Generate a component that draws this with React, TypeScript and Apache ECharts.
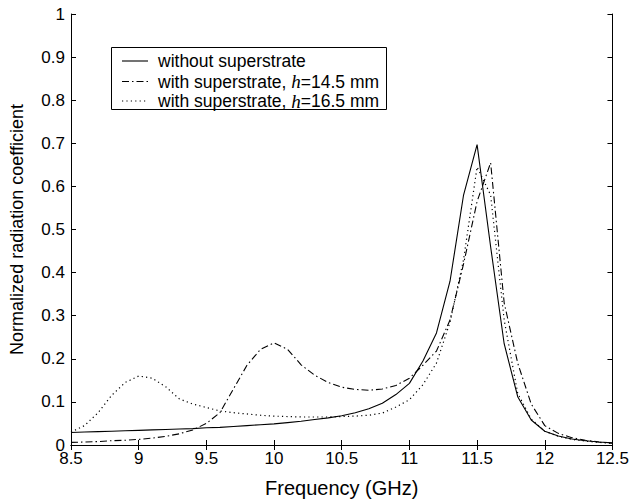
import React, { useEffect, useRef } from "react";
import * as echarts from "echarts";

const freqs = [
  8.5, 8.6, 8.7, 8.8, 8.9, 9.0, 9.1, 9.2, 9.3, 9.4, 9.5, 9.6, 9.7, 9.8, 9.9,
  10.0, 10.1, 10.2, 10.3, 10.4, 10.5, 10.6, 10.7, 10.8, 10.9, 11.0, 11.1, 11.2,
  11.3, 11.4, 11.5, 11.6, 11.7, 11.8, 11.9, 12.0, 12.1, 12.2, 12.3, 12.4, 12.5,
];

const withoutSuperstrate = [
  0.029, 0.03, 0.031, 0.032, 0.033, 0.034, 0.035, 0.036, 0.037, 0.038, 0.04,
  0.041, 0.043, 0.045, 0.047, 0.049, 0.052, 0.055, 0.059, 0.063, 0.068, 0.075,
  0.084, 0.097, 0.117, 0.143, 0.195, 0.26, 0.38, 0.58, 0.697, 0.46, 0.235,
  0.112, 0.058, 0.032, 0.021, 0.014, 0.01, 0.007, 0.005,
];

const superstrate145 = [
  0.006, 0.007, 0.008, 0.01, 0.011, 0.013, 0.016, 0.02, 0.026, 0.035, 0.05,
  0.075, 0.13, 0.185, 0.222, 0.237, 0.222, 0.186, 0.162, 0.145, 0.134, 0.129,
  0.127, 0.13, 0.138, 0.155, 0.185, 0.218, 0.29, 0.42, 0.565, 0.655, 0.33,
  0.19, 0.095, 0.045, 0.027, 0.017, 0.011, 0.007, 0.004,
];

const superstrate165 = [
  0.03, 0.045, 0.075, 0.115, 0.145, 0.16, 0.155, 0.135, 0.107, 0.095, 0.087,
  0.079, 0.075, 0.072, 0.069, 0.067, 0.066, 0.065, 0.065, 0.065, 0.066, 0.067,
  0.069, 0.074, 0.088, 0.105, 0.14, 0.19, 0.285, 0.43, 0.645, 0.58, 0.29,
  0.12, 0.06, 0.032, 0.02, 0.013, 0.009, 0.006, 0.004,
];

const xTicks = { min: 8.5, max: 12.5, interval: 0.5 };
const yTicks = { min: 0, max: 1, interval: 0.1 };

const seriesNames = [
  "without superstrate",
  "with superstrate, h=14.5 mm",
  "with superstrate, h=16.5 mm",
];

const FONT = "Liberation Sans, Arial, Helvetica, sans-serif";

export default function App() {
  const ref = useRef<HTMLDivElement>(null);
  useEffect(() => {
    document.body.style.margin = "0";
    if (!ref.current) return;
    const chart = echarts.init(ref.current, null, { renderer: "svg" });
    const pair = (vals: number[]) => freqs.map((f, i) => [f, vals[i]]);
    const axisCommon = {
      axisLine: { show: true, lineStyle: { color: "#000", width: 1 } },
      axisTick: { show: true, inside: true, length: 5, lineStyle: { color: "#000" } },
      splitLine: { show: false },
    };
    const dashDot = [7, 3, 1.5, 3];
    const dotted = [1.2, 3.2];
    const lx1 = 122, lx2 = 148, tx = 158;
    const rows = [61, 81.5, 101];
    chart.setOption({
      animation: false,
      backgroundColor: "#fff",
      grid: { left: 69, right: 15, top: 14, bottom: 58, containLabel: false },
      xAxis: [
        {
          type: "value",
          ...xTicks,
          ...axisCommon,
          name: "Frequency (GHz)",
          nameLocation: "middle",
          nameGap: 33,
          nameTextStyle: { fontFamily: FONT, fontSize: 20, color: "#000" },
          axisLabel: { fontFamily: FONT, fontSize: 17, color: "#000", margin: 5 },
        },
        {
          type: "value",
          position: "top",
          ...xTicks,
          ...axisCommon,
          axisLabel: { show: false },
        },
      ],
      yAxis: [
        {
          type: "value",
          ...yTicks,
          ...axisCommon,
          name: "Normalized radiation coefficient",
          nameLocation: "middle",
          nameGap: 45,
          nameTextStyle: { fontFamily: FONT, fontSize: 18, color: "#000" },
          axisLabel: { fontFamily: FONT, fontSize: 17, color: "#000", margin: 6 },
        },
        {
          type: "value",
          position: "right",
          ...yTicks,
          ...axisCommon,
          axisLabel: { show: false },
        },
      ],
      series: [
        {
          name: seriesNames[0],
          type: "line",
          data: pair(withoutSuperstrate),
          showSymbol: false,
          lineStyle: { color: "#000", width: 1.1, type: "solid" },
        },
        {
          name: seriesNames[1],
          type: "line",
          data: pair(superstrate145),
          showSymbol: false,
          lineStyle: { color: "#000", width: 1.1, type: dashDot },
        },
        {
          name: seriesNames[2],
          type: "line",
          data: pair(superstrate165),
          showSymbol: false,
          lineStyle: { color: "#000", width: 1.2, type: dotted },
        },
      ],
      graphic: [
        {
          type: "rect",
          shape: { x: 111.5, y: 47.5, width: 275, height: 62 },
          style: { fill: "#fff", stroke: "#000", lineWidth: 1 },
          z: 100,
        },
        ...rows.map((y, i) => ({
          type: "line",
          shape: { x1: lx1, y1: y, x2: lx2, y2: y },
          style: {
            stroke: "#000",
            lineWidth: 1.1,
            lineDash: i === 0 ? null : i === 1 ? dashDot : dotted,
          },
          z: 101,
        })),
        {
          type: "text",
          x: tx,
          y: rows[0],
          style: {
            text: "without superstrate",
            font: `17.5px ${FONT}`,
            fill: "#000",
            verticalAlign: "middle",
          },
          z: 101,
        },
        ...[1, 2].map((i) => ({
          type: "text",
          x: tx,
          y: rows[i],
          style: {
            text: `with superstrate, {i|h}=${i === 1 ? "14.5" : "16.5"} mm`,
            font: `17.5px ${FONT}`,
            fill: "#000",
            verticalAlign: "middle",
            rich: {
              i: {
                fontFamily: "Liberation Serif, Times New Roman, serif",
                fontStyle: "italic",
                fontSize: 19,
                fill: "#000",
              },
            },
          },
          z: 101,
        })),
      ],
    });
    return () => chart.dispose();
  }, []);
  return <div ref={ref} style={{ width: 632, height: 503 }} />;
}
